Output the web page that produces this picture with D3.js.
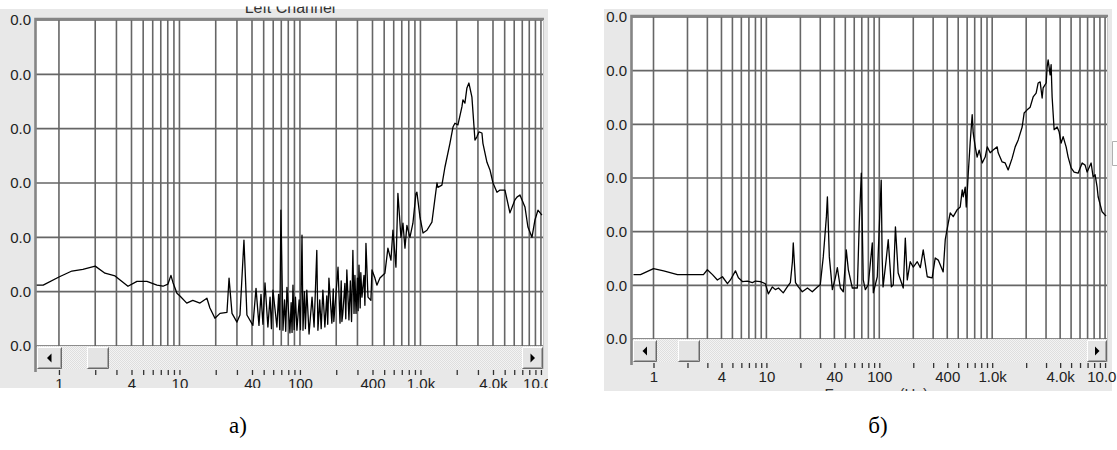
<!DOCTYPE html>
<html>
<head>
<meta charset="utf-8">
<script src="https://cdn.jsdelivr.net/npm/d3@7"></script>
<style>
  body { margin: 0; background: #fff; }
  svg { display: block; }
</style>
</head>
<body>
<script>
var width = 1117;
var height = 450;

// traces: [frequency Hz, level dB]
const traceA = [
  [0.64,-48.8],[0.74,-48.8],[1,-47.3],[1.28,-46.2],[1.58,-45.9],[2.0,-45.3],[2.41,-46.6],[2.92,-47.1],
  [3.74,-49.0],[4.44,-48.1],[5.37,-48.1],[6.51,-48.8],[7.3,-49.0],[8.03,-48.6],[8.5,-47.0],[8.83,-48.3],
  [9.53,-50.3],[10.1,-50.8],[11.5,-52.1],[12.9,-51.6],[14.8,-52.1],[16.9,-51.2],[17.9,-53.0],[19.7,-54.9],
  [21.7,-54.0],[24.8,-53.8],[25.8,-47.5],[27.3,-54.0],[30.0,-55.6],[31.8,-54.3],[34.3,-40.5],[36.3,-54.3],
  [40.7,-56.2],[43.2,-49.4],[45.7,-56.2],[47.5,-50.5],[49.3,-56.0],[51.3,-48.4],[54.2,-56.5],[56.5,-51.0],
  [58.0,-56.8],[59.7,-49.7],[64.4,-56.5],[66.5,-50.5],[68.0,-57.0],[69.5,-35.0],[72.3,-57.1],[74.5,-51.5],
  [76.2,-57.3],[78.0,-49.2],[82.6,-57.6],[84.5,-52.0],[86.0,-57.5],[87.5,-48.8],[89.5,-57.0],[91.8,-51.0],
  [94.4,-57.1],[98.5,-51.5],[101,-57.0],[104,-39.6],[106,-57.1],[109,-50.0],[111,-56.8],[114,-49.7],
  [119,-57.8],[126,-51.0],[131,-56.5],[134,-50.5],[138,-42.4],[141,-57.1],[146,-51.5],[150,-56.8],
  [155,-49.7],[161,-56.5],[167,-50.8],[170,-56.0],[174,-47.5],[184,-55.8],[189,-49.5],[191,-55.5],
  [195,-52.9],[207,-45.5],[215,-55.8],[220,-48.0],[223,-55.5],[227,-54.0],[236,-48.5],[240,-55.0],
  [245,-46.0],[255,-55.2],[262,-48.0],[268,-55.5],[275,-42.4],[281,-54.0],[286,-47.0],[292,-54.0],
  [300,-47.5],[304,-53.5],[309,-45.1],[316,-53.0],[320,-46.5],[327,-51.0],[340,-47.0],[346,-52.5],
  [353,-41.1],[367,-51.0],[388,-51.6],[396,-46.0],[419,-47.5],[435,-48.8],
  [461,-47.5],[507,-46.6],[537,-42.0],[569,-44.2],[591,-38.7],[626,-45.5],[650,-31.9],[689,-40.0],
  [716,-37.4],[744,-42.0],[772,-37.8],[818,-40.0],[866,-37.4],[918,-31.9],[935,-31.7],[991,-36.3],
  [1050,-39.2],[1132,-38.7],[1245,-37.2],[1371,-30.0],[1396,-30.8],[1507,-30.4],[1596,-27.1],[1757,-22.7],
  [1862,-19.7],[1932,-19.0],[2047,-19.3],[2208,-16.0],[2252,-14.7],[2339,-15.3],[2430,-12.5],[2525,-11.6],
  [2674,-14.2],[2833,-22.1],[2942,-21.5],[3057,-20.6],[3238,-20.8],[3300,-22.7],[3565,-26.2],[3776,-27.6],
  [4000,-30.0],[4316,-31.7],[4571,-31.3],[5027,-31.3],[5530,-35.5],[6083,-33.1],[6323,-32.6],[6695,-32.2],
  [7366,-34.4],[7798,-38.1],[8420,-40.0],[8919,-36.8],[9446,-35.0],[10190,-35.9]
];

const traceB = [
  [0.665,-48.0],[0.767,-48.0],[1,-46.9],[1.23,-47.3],[1.63,-48.0],[2.77,-48.0],[3.0,-47.1],[3.33,-48.0],
  [3.68,-49.0],[4.08,-48.4],[4.52,-49.7],[4.80,-49.0],[5.32,-47.3],[5.65,-48.6],[6.13,-49.3],[6.79,-49.2],
  [7.52,-49.5],[8.0,-49.2],[8.85,-49.3],[9.8,-49.7],[10.4,-51.6],[11.3,-50.3],[12.0,-50.8],[12.8,-50.5],
  [14.1,-51.4],[15.3,-50.3],[16.3,-49.5],[17.0,-45.6],[17.3,-42.1],[18.1,-49.5],[19.2,-50.3],[20.8,-51.2],
  [23.1,-50.5],[25.5,-51.2],[28.3,-50.3],[30.0,-49.9],[31.9,-44.7],[34.0,-37.2],[34.7,-33.5],[36.1,-44.7],
  [38.4,-50.8],[40.8,-48.6],[42.5,-46.7],[45.2,-50.5],[48.0,-51.2],[51.0,-43.4],[53.2,-47.1],[57.7,-50.5],
  [63.9,-50.5],[66.5,-38.4],[69.3,-29.1],[72.1,-49.0],[75.2,-50.8],[79.9,-49.9],[86.7,-42.1],[88.5,-51.4],
  [96.0,-48.4],[104,-30.4],[106,-44.7],[108,-50.3],[115,-45.3],[120,-41.5],[128,-50.3],[133,-49.9],
  [139,-39.1],[147,-47.7],[163,-50.5],[170,-41.2],[177,-49.0],[188,-45.6],[200,-46.6],[217,-45.6],
  [231,-46.7],[245,-43.4],[266,-48.4],[294,-48.6],[313,-44.9],[333,-45.3],[368,-47.5],[384,-41.5],
  [408,-38.4],[425,-36.5],[452,-37.2],[490,-35.9],[521,-35.4],[543,-32.2],[554,-33.5],[577,-31.7],
  [589,-35.4],[601,-32.6],[614,-29.1],[638,-23.5],[665,-18.2],[679,-21.6],[708,-24.2],[736,-26.1],
  [767,-24.8],[816,-27.2],[867,-26.1],[904,-24.2],[960,-25.3],[1020,-24.8],[1107,-24.2],[1130,-25.3],
  [1225,-27.0],[1303,-27.2],[1385,-28.5],[1503,-26.3],[1599,-24.2],[1700,-22.9],[1843,-20.5],[1919,-17.9],
  [2041,-17.3],[2170,-16.8],[2306,-14.9],[2451,-14.2],[2553,-12.3],[2660,-12.1],[2770,-15.1],[2827,-13.2],
  [3006,-12.3],[3068,-9.3],[3131,-8.0],[3260,-10.8],[3327,-8.9],[3396,-14.9],[3538,-21.0],[3760,-20.5],
  [3917,-21.4],[4081,-23.5],[4251,-22.3],[4519,-24.2],[4708,-26.1],[5004,-28.1],[5319,-28.9],[5771,-29.1],
  [6262,-27.2],[6655,-27.6],[6934,-28.9],[7522,-27.2],[7835,-29.8],[8162,-29.4],[8503,-31.7],[8678,-33.5],
  [9411,-36.3],[10210,-37.1]
];

const xDomain = [0.645, 10400];
const gridFreqs = [1, 10, 100, 1000].flatMap(d => d3.range(1, 10).map(k => k * d)).concat([10000]);
const xLabelValues = [1, 4, 10, 40, 100, 400, 1000, 4000, 10000];
const xLabelText = ["1", "4", "10", "40", "100", "400", "1.0k", "4.0k", "10.0k"];
const yTickValues = [-60, -50, -40, -30, -20, -10, 0];
const yTickText = ["0.0", "0.0", "0.0", "0.0", "0.0", "0.0", "0.0"];
const captions = ["а)", "б)"];

var uiFont = '"Liberation Sans", Arial, sans-serif';

var svg = d3.select("body").append("svg")
   .attr("width", width)
   .attr("height", height)

var defs = svg.append("defs")

// dotted scrollbar track
var pat = defs.append("pattern")
   .attr("id", "track")
   .attr("width", 2).attr("height", 2)
   .attr("patternUnits", "userSpaceOnUse")
pat.append("rect").attr("width", 2).attr("height", 2).attr("fill", "#f3f3f3")
pat.append("rect").attr("width", 1).attr("height", 1).attr("fill", "#dedede")
pat.append("rect").attr("x", 1).attr("y", 1).attr("width", 1).attr("height", 1).attr("fill", "#dedede")

var panels = [
  {id: "a", win: [0, 9, 548, 388], plot: [36, 20, 543, 346], clipRight: 548, btnL: 25, btnR: 21, thumb: [87, 22],
   title: "Left Channel", trace: traceA, caption: captions[0], capX: 238},
  {id: "b", win: [604, 9, 1112, 391], plot: [632, 17, 1107, 339], clipRight: 1117, btnL: 24, btnR: 20, thumb: [678, 22],
   xTitle: "Frequency (Hz)", trace: traceB, caption: captions[1], capX: 878}
];

function bevel(g, x, y, w, h) {
  g.append("rect").attr("x", x).attr("y", y).attr("width", w).attr("height", h).attr("fill", "#e4e4e4")
  g.append("path").attr("d", `M${x+0.5},${y+h-1}V${y+0.5}H${x+w-1}`).attr("fill", "none").attr("stroke", "#fff")
  g.append("path").attr("d", `M${x+0.5},${y+h-0.5}H${x+w-0.5}V${y+0.5}`).attr("fill", "none").attr("stroke", "#6a6a6a")
  g.append("path").attr("d", `M${x+1.5},${y+h-1.5}H${x+w-1.5}V${y+1.5}`).attr("fill", "none").attr("stroke", "#a8a8a8")
}

function drawPanel(p) {
  var [wx0, wy0, wx1, wy1] = p.win;
  var [px0, py0, px1, py1] = p.plot;
  var sy0 = py1, sy1 = py1 + 23;

  defs.append("clipPath").attr("id", "win-" + p.id)
     .append("rect").attr("x", wx0).attr("y", 0).attr("width", p.clipRight - wx0).attr("height", wy1)
  defs.append("clipPath").attr("id", "plot-" + p.id)
     .append("rect").attr("x", px0).attr("y", py0).attr("width", px1 - px0).attr("height", py1 - py0)

  var g = svg.append("g").attr("clip-path", `url(#win-${p.id})`)

  g.append("rect")
     .attr("x", wx0).attr("y", wy0)
     .attr("width", wx1 - wx0).attr("height", wy1 - wy0)
     .attr("fill", "#e8e8e8")

  let x = d3.scaleLog().domain(xDomain).range([px0, px1]);
  let y = d3.scaleLinear().domain([-60, 0]).range([py1, py0]);

  g.append("rect")
     .attr("x", px0).attr("y", py0)
     .attr("width", px1 - px0).attr("height", py1 - py0)
     .attr("fill", "#fff")

  // grid
  g.append("g").selectAll("line")
     .data(gridFreqs)
     .enter().append("line")
     .attr("x1", d => x(d)).attr("x2", d => x(d))
     .attr("y1", py0).attr("y2", py1)
     .attr("stroke", "#666").attr("stroke-width", 1.6)

  g.append("g").selectAll("line")
     .data(yTickValues)
     .enter().append("line")
     .attr("x1", px0).attr("x2", px1)
     .attr("y1", d => y(d)).attr("y2", d => y(d))
     .attr("stroke", "#666").attr("stroke-width", 1.6)

  var line = d3.line().x(d => x(d[0])).y(d => y(d[1]));
  g.append("path")
     .datum(p.trace)
     .attr("clip-path", `url(#plot-${p.id})`)
     .attr("d", line)
     .attr("fill", "none")
     .attr("stroke", "#000")
     .attr("stroke-width", 1.3)
     .attr("stroke-linejoin", "round")

  // sunken frame
  g.append("path")
     .attr("d", `M${px0-0.5},${sy1+3}V${py0-1}H${px1+1}`)
     .attr("fill", "none").attr("stroke", "#858585").attr("stroke-width", 2.6)
  g.append("line")
     .attr("x1", px1 + 0.5).attr("x2", px1 + 0.5).attr("y1", py0).attr("y2", sy1)
     .attr("stroke", "#c8c8c8")

  // scrollbar
  g.append("rect")
     .attr("x", px0 + 1).attr("y", sy0).attr("width", px1 - px0 - 1).attr("height", sy1 - sy0)
     .attr("fill", "url(#track)")
  bevel(g, px0 + 1, sy0 + 1, p.btnL, sy1 - sy0 - 1)
  bevel(g, p.thumb[0], sy0 + 1, p.thumb[1], sy1 - sy0 - 1)
  bevel(g, px1 - p.btnR, sy0 + 1, p.btnR, sy1 - sy0 - 1)
  var cy = (sy0 + sy1) / 2 + 0.5;
  var lx = px0 + 1 + p.btnL / 2, rx = px1 - p.btnR / 2;
  g.append("path").attr("d", `M${lx-2.5},${cy}L${lx+2},${cy-4.5}V${cy+4.5}Z`).attr("fill", "#000")
  g.append("path").attr("d", `M${rx+2.5},${cy}L${rx-2},${cy-4.5}V${cy+4.5}Z`).attr("fill", "#000")

  // x axis below the scrollbar
  var labelMap = new Map(xLabelValues.map((v, i) => [v, xLabelText[i]]));
  let xAxis = d3.axisBottom(x)
     .tickValues(gridFreqs)
     .tickSize(5)
     .tickPadding(3)
     .tickFormat(d => labelMap.get(d) || "");
  var xa = g.append("g")
     .attr("transform", `translate(0, ${sy1 + 1})`)
     .call(xAxis)
  xa.select(".domain").remove()
  xa.selectAll(".tick line").attr("stroke", "#333").attr("stroke-width", 1.3)
  xa.selectAll(".tick text")
     .attr("font-family", uiFont).attr("font-size", 15).attr("fill", "#222")

  // y labels
  let yAxis = d3.axisLeft(y)
     .tickValues(yTickValues)
     .tickSize(0)
     .tickPadding(5)
     .tickFormat((d, i) => yTickText[i]);
  var ya = g.append("g")
     .attr("transform", `translate(${px0}, 0)`)
     .call(yAxis)
  ya.select(".domain").remove()
  ya.selectAll(".tick text")
     .attr("font-family", uiFont).attr("font-size", 15).attr("fill", "#222")

  if (p.title) {
    defs.append("clipPath").attr("id", "title-" + p.id)
       .append("rect").attr("x", wx0).attr("y", 6.5).attr("width", wx1 - wx0).attr("height", 20)
    g.append("text")
       .attr("clip-path", `url(#title-${p.id})`)
       .attr("x", (px0 + px1) / 2 + 0.5).attr("y", 12.5)
       .attr("text-anchor", "middle")
       .attr("font-family", uiFont).attr("font-size", 16).attr("fill", "#333")
       .text(p.title)
  }
  if (p.xTitle) {
    g.append("text")
       .attr("x", x(60) + 22).attr("y", wy1 + 8)
       .attr("text-anchor", "middle")
       .attr("font-family", uiFont).attr("font-size", 15).attr("fill", "#333")
       .text(p.xTitle)
  }

  svg.append("text")
     .attr("x", p.capX).attr("y", 433)
     .attr("text-anchor", "middle")
     .attr("font-family", '"Liberation Serif", "Times New Roman", serif')
     .attr("font-size", 23)
     .attr("fill", "#000")
     .text(p.caption)
}

panels.forEach(drawPanel)

// small notch at the right border of the second window
svg.append("path")
   .attr("d", "M1117,141.5H1112.5V165.5H1117")
   .attr("fill", "none").attr("stroke", "#b0b0b0")
</script>
</body>
</html>
